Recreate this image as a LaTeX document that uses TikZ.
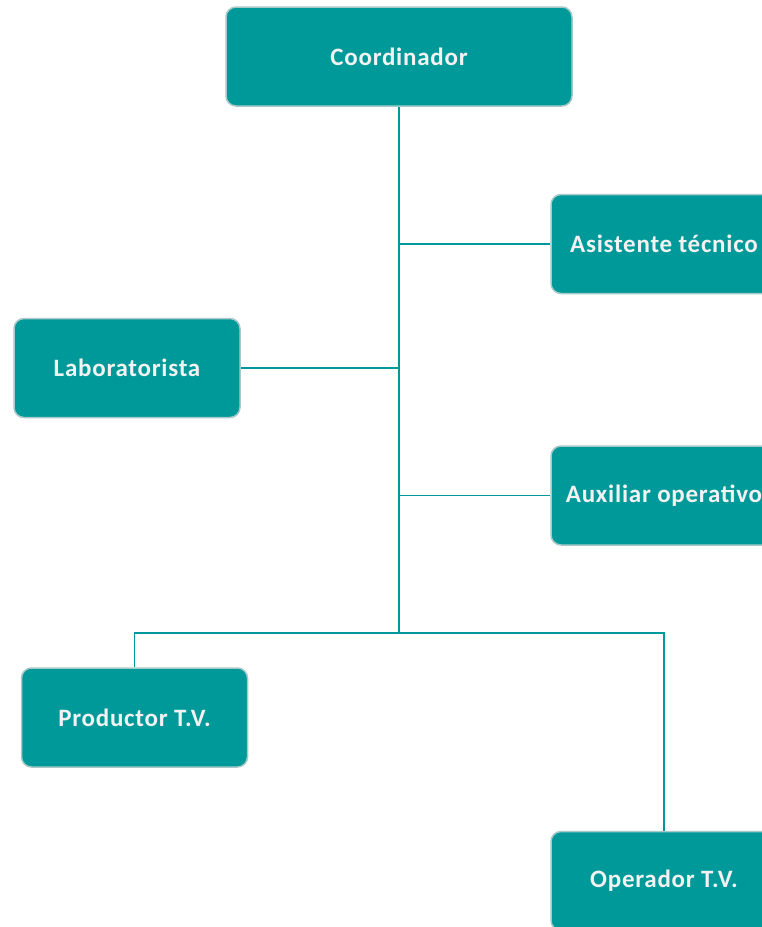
\documentclass[tikz,border=0pt]{standalone}
\usepackage{fontspec}
\newfontfamily\boxfont[LetterSpace=3]{Carlito}
\definecolor{teal1}{HTML}{009999}
\definecolor{boxborder}{HTML}{A9C9C9}
\definecolor{boxtext}{HTML}{F2F2F2}
\begin{document}
\begin{tikzpicture}[x=1pt,y=1pt,
  orgbox/.style={draw=boxborder, line width=1.5pt, fill=teal1, rounded corners=10pt,
    minimum height=99pt, text=boxtext, font=\boxfont\bfseries\fontsize{25}{30}\selectfont,
    inner sep=0pt, yshift=-1.5pt},
  wide/.style={minimum width=346pt},
  narrow/.style={minimum width=226pt},
  conn/.style={draw=teal1, line width=1.8pt}]
\useasboundingbox (0,0) rectangle (761,-927);
\fill[white] (0,0) rectangle (761,-927);
\coordinate (trunkend) at (399,-633);
\node[orgbox,wide] (coord) at (399,-55) {Coordinador};
\node[orgbox,narrow] (asis) at (664,-242.5) {Asistente técnico};
\node[orgbox,narrow] (lab) at (127,-366.5) {Laboratorista};
\node[orgbox,narrow] (aux) at (664,-494) {Auxiliar operativo};
\node[orgbox,narrow] (prod) at (134.5,-716) {Productor T.V.};
\node[orgbox,narrow] (oper) at (664,-879.5) {Operador T.V.};
\draw[conn] (coord.south) -- (trunkend);
\draw[conn] (asis.west) -- (asis.west -| trunkend);
\draw[conn] (lab.east) -- (lab.east -| trunkend);
\draw[conn] (aux.west) -- (aux.west -| trunkend);
\draw[conn] (prod.north) -- (prod.north |- trunkend) -- (oper.north |- trunkend) -- (oper.north);
\end{tikzpicture}
\end{document}
